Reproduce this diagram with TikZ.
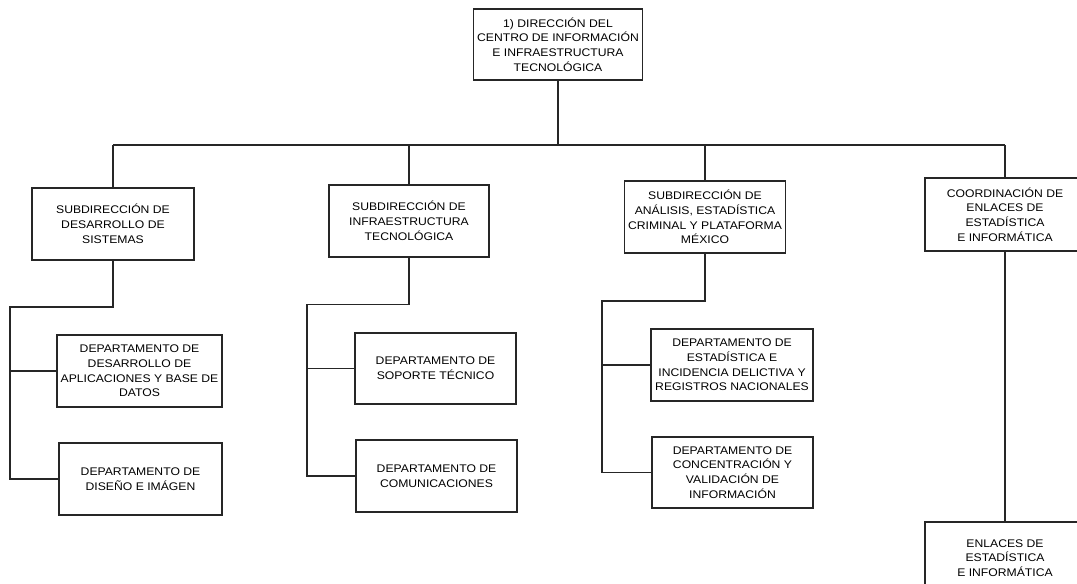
\documentclass[tikz,border=0pt]{standalone}
\usepackage{fontspec}
\setmainfont{Liberation Sans}[FakeStretch=1.1]
\tikzset{
	unit/.style={draw=black!85, line width=0.8pt, align=center, inner sep=2pt,
		font=\fontsize{6.3}{8.4}\selectfont, text=black},
	link/.style={draw=black!85, line width=0.8pt}
}
\begin{document}
\begin{tikzpicture}[x=0.02cm, y=-0.02cm]
		\useasboundingbox (0,0) rectangle (1077,584);
		\clip (0,0) rectangle (1077,584);
	
		\node[unit, minimum width=160*0.02cm, minimum height=71*0.02cm] (dir) at (558,44.5)
			{1) DIRECCIÓN DEL\\CENTRO DE INFORMACIÓN\\E INFRAESTRUCTURA\\TECNOLÓGICA};
	
		\node[unit, minimum width=162*0.02cm, minimum height=72*0.02cm] (sub1) at (113,224)
			{SUBDIRECCIÓN DE\\DESARROLLO DE\\SISTEMAS};
		\node[unit, minimum width=160*0.02cm, minimum height=72*0.02cm] (sub2) at (409,221)
			{SUBDIRECCIÓN DE\\INFRAESTRUCTURA\\TECNOLÓGICA};
		\node[unit, minimum width=161*0.02cm, minimum height=72*0.02cm] (sub3) at (705,217)
			{SUBDIRECCIÓN DE\\ANÁLISIS, ESTADÍSTICA\\CRIMINAL Y PLATAFORMA\\MÉXICO};
		\node[unit, minimum width=160*0.02cm, minimum height=73*0.02cm] (coord) at (1005,214.5)
			{COORDINACIÓN DE\\ENLACES DE\\ESTADÍSTICA\\E INFORMÁTICA};
	
		\node[unit, minimum width=163*0.02cm, minimum height=72*0.02cm] (depA) at (139.5,371)
			{DEPARTAMENTO DE\\DESARROLLO DE\\APLICACIONES Y BASE DE\\DATOS};
		\node[unit, minimum width=163*0.02cm, minimum height=72*0.02cm] (depB) at (140.5,479)
			{DEPARTAMENTO DE\\DISEÑO E IMÁGEN};
		\node[unit, minimum width=161*0.02cm, minimum height=71*0.02cm] (depC) at (435.5,368.5)
			{DEPARTAMENTO DE\\SOPORTE TÉCNICO};
		\node[unit, minimum width=161*0.02cm, minimum height=72*0.02cm] (depD) at (436.5,476)
			{DEPARTAMENTO DE\\COMUNICACIONES};
		\node[unit, minimum width=162*0.02cm, minimum height=72*0.02cm] (depE) at (732,365)
			{DEPARTAMENTO DE\\ESTADÍSTICA E\\INCIDENCIA DELICTIVA Y\\REGISTROS NACIONALES};
		\node[unit, minimum width=161*0.02cm, minimum height=71*0.02cm] (depF) at (732.5,472.5)
			{DEPARTAMENTO DE\\CONCENTRACIÓN Y\\VALIDACIÓN DE\\INFORMACIÓN};
		\node[unit, minimum width=160*0.02cm, minimum height=72*0.02cm] (enl) at (1005,558)
			{ENLACES DE\\ESTADÍSTICA\\E INFORMÁTICA};
	
		\coordinate (bus) at (558,145);
		\draw[link] (dir.south) -- (bus);
		\draw[link] (sub1.north |- bus) -- (coord.north |- bus);
		\foreach \n in {sub1,sub2,sub3,coord}
			\draw[link] (\n.north) -- (\n.north |- bus);
	
		\coordinate (spineA) at (10,307);
		\coordinate (spineB) at (307,304.5);
		\coordinate (spineC) at (602,301);
		\foreach \s/\a/\b/\c in {sub1/spineA/depA/depB, sub2/spineB/depC/depD, sub3/spineC/depE/depF} {
			\draw[link] (\s.south) |- (\a) |- (\c.west);
			\draw[link] (\a |- \b.west) -- (\b.west);
		}
	
		\draw[link] (coord.south) -- (enl.north);
	\end{tikzpicture}
\end{document}
